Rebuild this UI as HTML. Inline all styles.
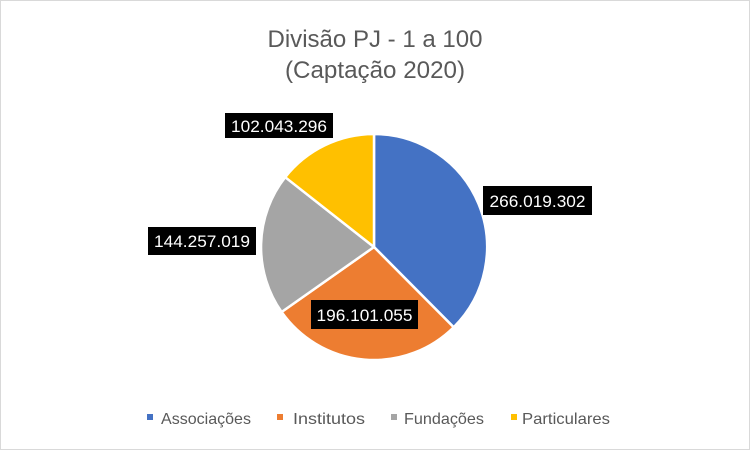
<!DOCTYPE html>
<html><head><meta charset="utf-8"><style>
html,body{margin:0;padding:0;background:#fff}
svg{display:block}
text{font-family:"Liberation Sans",sans-serif}
</style></head><body>
<svg width="750" height="450" viewBox="0 0 750 450">
<rect x="0.5" y="0.5" width="749" height="449" fill="#fff" stroke="#d9d9d9"/>
<text x="375" y="47" font-size="24" fill="#595959" text-anchor="middle" textLength="215" lengthAdjust="spacingAndGlyphs">Divisão PJ - 1 a 100</text>
<text x="375" y="78" font-size="24" fill="#595959" text-anchor="middle" textLength="180" lengthAdjust="spacingAndGlyphs">(Captação 2020)</text>
<g stroke="#fff" stroke-width="2.5" stroke-linejoin="round">
<path d="M374 247 L374 134 A113 113 0 0 1 453.7 327.2 Z" fill="#4472c4"/>
<path d="M374 247 L453.7 327.2 A113 113 0 0 1 281.6 312 Z" fill="#ed7d31"/>
<path d="M374 247 L281.6 312 A113 113 0 0 1 285.2 177.2 Z" fill="#a5a5a5"/>
<path d="M374 247 L285.2 177.2 A113 113 0 0 1 374 134 Z" fill="#ffc000"/>
</g>
<g font-size="17" fill="#fff" text-anchor="middle">
<rect x="225" y="113" width="108" height="25" fill="#000"/>
<text x="279" y="132" textLength="96" lengthAdjust="spacingAndGlyphs">102.043.296</text>
<rect x="483" y="186" width="109" height="29" fill="#000"/>
<text x="537.5" y="207" textLength="96" lengthAdjust="spacingAndGlyphs">266.019.302</text>
<rect x="148" y="227" width="108" height="28" fill="#000"/>
<text x="202" y="247" textLength="96" lengthAdjust="spacingAndGlyphs">144.257.019</text>
<rect x="311" y="300" width="107" height="29" fill="#000"/>
<text x="364.5" y="321" textLength="96" lengthAdjust="spacingAndGlyphs">196.101.055</text>
</g>
<g font-size="16" fill="#595959">
<rect x="147" y="414" width="6" height="6" fill="#4472c4"/>
<text x="161" y="424" textLength="90" lengthAdjust="spacingAndGlyphs">Associações</text>
<rect x="277" y="414" width="6" height="6" fill="#ed7d31"/>
<text x="293" y="424" textLength="72" lengthAdjust="spacingAndGlyphs">Institutos</text>
<rect x="391" y="414" width="6" height="6" fill="#a5a5a5"/>
<text x="404" y="424" textLength="80" lengthAdjust="spacingAndGlyphs">Fundações</text>
<rect x="511" y="414" width="6" height="6" fill="#ffc000"/>
<text x="522" y="424" textLength="88" lengthAdjust="spacingAndGlyphs">Particulares</text>
</g>
</svg>
</body></html>
